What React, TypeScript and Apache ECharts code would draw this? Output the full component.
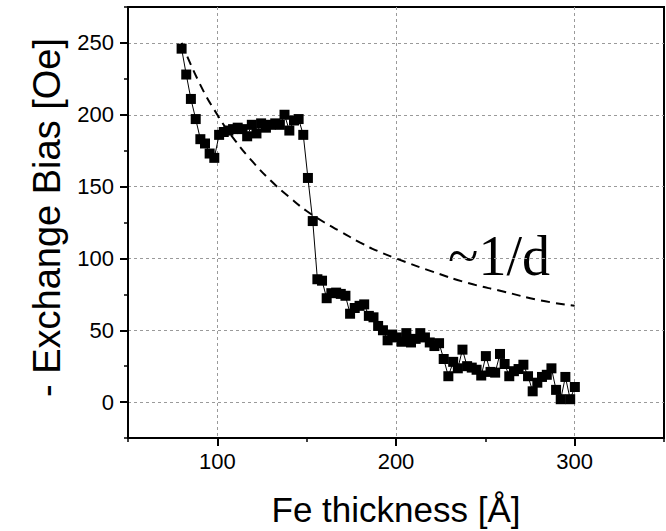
import React, { useEffect, useRef } from "react";
import * as echarts from "echarts";

// Fe thickness (Å) of each measured sample
const thickness = [
  80.0, 82.6, 85.2, 87.9, 90.5, 93.1, 95.7, 98.3, 101.0, 103.6,
  106.2, 108.8, 111.4, 114.1, 116.7, 119.3, 121.9, 124.5, 127.2, 129.8,
  132.4, 135.0, 137.6, 140.3, 142.9, 145.5, 148.1, 150.7, 153.4, 156.0,
  158.6, 161.2, 163.8, 166.5, 169.1, 171.7, 174.3, 176.9, 179.6, 182.2,
  184.8, 187.4, 190.0, 192.7, 195.3, 197.9, 200.5, 203.1, 205.8, 208.4,
  211.0, 213.6, 216.2, 218.9, 221.5, 224.1, 226.7, 229.3, 232.0, 234.6,
  237.2, 239.8, 242.4, 245.1, 247.7, 250.3, 252.9, 255.5, 258.2, 260.8,
  263.4, 266.0, 268.6, 271.3, 273.9, 276.5, 279.1, 281.7, 284.4, 287.0,
  289.6, 292.2, 294.8, 297.5, 300.1,
];

// - Exchange bias (Oe)
const exchangeBias = [
  246, 228, 211, 197, 183, 180, 173, 170, 186, 188,
  189, 190, 191, 190, 185, 193, 187, 194, 191, 193,
  194, 193, 200, 189, 196, 197, 186, 156, 126, 85.5,
  84.5, 72.3, 75.8, 76.2, 75.3, 74, 61.5, 65.5, 67, 68,
  60, 59, 53, 50, 43, 47, 45, 42, 48, 41.5,
  44, 48, 45, 41.5, 39, 41, 30, 18, 28, 23.5,
  36.5, 25, 24, 22.5, 18.5, 32, 21, 20.5, 33.5, 26.5,
  18, 21.5, 23, 26, 18, 7.5, 13.5, 17.5, 19, 23.5,
  8.5, 2, 17.5, 2, 10.5,
];

// ~1/d guide curve
const fitThickness = [80, 90, 100, 110, 120, 130, 140, 150, 160, 170, 180, 190, 200, 220, 240, 260, 280, 300];
const fitBias = [250, 222, 200, 182, 167, 154, 143, 133, 125, 118, 111, 105, 100, 91, 83, 77, 71, 67];

const xTicks = [100, 200, 300];
const yTicks = [0, 50, 100, 150, 200, 250];

const FONT = "'Liberation Sans', Arial, sans-serif";

export default function App() {
  const ref = useRef<HTMLDivElement>(null);

  useEffect(() => {
    if (!ref.current) return;
    const chart = echarts.init(ref.current, null, { renderer: "svg" });
    const dashed = { color: "#9a9a9a", width: 1, type: [3, 3] as number[] };
    chart.setOption({
      animation: false,
      backgroundColor: "#fff",
      grid: {
        left: 128,
        right: 2,
        top: 7,
        bottom: 93,
        containLabel: false,
        outerBoundsMode: "none",
        show: true,
        borderColor: "#000",
        borderWidth: 2,
        backgroundColor: "transparent",
      },
      xAxis: [
        {
          type: "value",
          min: 50,
          max: 350,
          position: "bottom",
          axisLine: { show: true, onZero: false, lineStyle: { color: "#000", width: 2 } },
          axisTick: { show: true, customValues: xTicks, length: 8, lineStyle: { color: "#000", width: 2 } },
          axisLabel: { customValues: xTicks, fontSize: 22, color: "#000", fontFamily: FONT, margin: 12 },
          splitLine: { show: true, lineStyle: dashed },
          name: "Fe thickness [Å]",
          nameLocation: "middle",
          nameGap: 54,
          nameTextStyle: { fontSize: 35, color: "#000", fontFamily: FONT },
        },
        {
          type: "value",
          min: 50,
          max: 350,
          interval: 50,
          position: "bottom",
          axisLine: { show: false, onZero: false },
          axisTick: { show: true, length: 4, lineStyle: { color: "#000", width: 1.5 } },
          axisLabel: { show: false },
          splitLine: { show: false },
        },
      ],
      yAxis: [
        {
          type: "value",
          min: -25,
          max: 275,
          position: "left",
          axisLine: { show: true, onZero: false, lineStyle: { color: "#000", width: 2 } },
          axisTick: { show: true, customValues: yTicks, length: 8, lineStyle: { color: "#000", width: 2 } },
          axisLabel: { customValues: yTicks, fontSize: 22, color: "#000", fontFamily: FONT, margin: 14 },
          splitLine: { show: true, lineStyle: dashed },
          name: "- Exchange Bias [Oe]",
          nameLocation: "middle",
          nameGap: 56,
          nameTextStyle: { fontSize: 38, color: "#000", fontFamily: FONT, padding: [0, 0, 0, 10] },
        },
        {
          type: "value",
          min: -25,
          max: 275,
          interval: 25,
          position: "left",
          axisLine: { show: false, onZero: false },
          axisTick: { show: true, length: 4, lineStyle: { color: "#000", width: 1.5 } },
          axisLabel: { show: false },
          splitLine: { show: false },
        },
      ],
      graphic: [
        {
          type: "text",
          x: 499,
          y: 256,
          style: {
            text: "~1/d",
            fontSize: 56,
            fontFamily: "'Liberation Serif', 'Times New Roman', serif",
            fill: "#000",
            align: "center",
            verticalAlign: "middle",
          },
        },
      ],
      series: [
        {
          type: "line",
          name: "1/d",
          xAxisIndex: 0,
          yAxisIndex: 0,
          data: fitThickness.map((d, i) => [d, fitBias[i]]),
          smooth: true,
          symbol: "none",
          lineStyle: { color: "#000", width: 2, type: [9, 6] },
          z: 2,
        },
        {
          type: "line",
          name: "data",
          xAxisIndex: 0,
          yAxisIndex: 0,
          data: thickness.map((d, i) => [d, exchangeBias[i]]),
          symbol: "rect",
          symbolSize: 10,
          itemStyle: { color: "#000" },
          lineStyle: { color: "#000", width: 1 },
          z: 3,
        },
      ],
    });
    return () => chart.dispose();
  }, []);

  return <div ref={ref} style={{ width: 666, height: 531, position: "absolute", left: 0, top: 0 }} />;
}
